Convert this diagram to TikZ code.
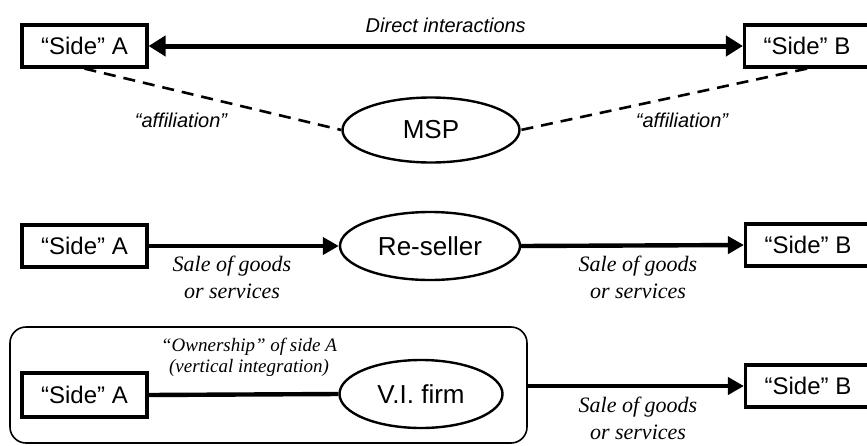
\documentclass[tikz,border=0pt]{standalone}
\usepackage{fontspec}
\setmainfont{Liberation Serif}
\setsansfont{Liberation Sans}
\usetikzlibrary{arrows.meta,shapes.geometric}

\tikzset{
  side/.style={draw, line width=1.6pt, inner sep=0pt, minimum width=62.5pt,
    minimum height=21pt, font=\sffamily\fontsize{12}{14}\selectfont},
  firm/.style={draw, ellipse, line width=1.2pt, inner sep=0pt,
    font=\sffamily\fontsize{13}{15}\selectfont},
  link/.style={line width=2.2pt},
  flow/.style={link, -{Triangle[length=8pt,width=8.5pt]}},
  affil/.style={line width=1.3pt, dash pattern=on 6pt off 4pt},
  sanslabel/.style={font=\sffamily\itshape\fontsize{10}{12}\selectfont},
  saletext/.style={font=\itshape\fontsize{11}{13.5}\selectfont, align=center, inner sep=0pt},
  owntext/.style={font=\itshape\fontsize{9.5}{10.5}\selectfont, align=center, inner sep=0pt},
}

\begin{document}
\begin{tikzpicture}[x=0.5pt, y=-0.5pt]
\useasboundingbox (0,0) rectangle (867,445);

% --- multi-sided platform ---
\node[side] (a1) at (84.5,46) {“Side” A};
\node[side] (b1) at (807,46) {“Side” B};
\node[firm, minimum width=88.5pt, minimum height=32.5pt] (msp) at (431,130) {MSP};
\draw[line width=2.5pt, {Triangle[length=8.5pt,width=10pt]}-{Triangle[length=8.5pt,width=10pt]}]
  (a1) -- node[above=2pt, sanslabel] {Direct interactions} (b1);
\draw[affil] (a1.south) -- (msp.west);
\draw[affil] (b1.south) -- (msp.east);
\node[sanslabel] (afa) at (181,120) {“affiliation”};
\node[sanslabel] (afb) at (682,120) {“affiliation”};

% --- re-seller ---
\node[side] (a2) at (84.5,246) {“Side” A};
\node[side] (b2) at (808,245) {“Side” B};
\node[firm, minimum width=90pt, minimum height=34pt] (rs) at (430,246) {Re-seller};
\draw[flow] (a2.east) -- (rs.west);
\draw[flow] (rs.east) -- (b2.west);
\node[saletext] (s2a) at (232,277) {Sale of goods\\or services};
\node[saletext] (s2b) at (638,277) {Sale of goods\\or services};

% --- vertically integrated firm ---
\node[draw, rounded corners=8pt, line width=0.8pt, minimum width=258.5pt,
  minimum height=58pt, inner sep=0pt] (vi frame) at (268.5,385) {};
\node[side, minimum height=22pt] (a3) at (84.5,395) {“Side” A};
\node[side] (b3) at (808,386) {“Side” B};
\node[firm, minimum width=81.5pt, minimum height=34pt] (vi) at (421,394) {V.I. firm};
\draw[link] (a3.east) -- (vi.west);
\draw[flow] (vi frame.east |- b3.west) -- (b3.west);
\node[owntext] (own) at (249,357) {“Ownership” of side A\\(vertical integration)};
\node[saletext] (s3) at (638,418) {Sale of goods\\or services};
\end{tikzpicture}
\end{document}
